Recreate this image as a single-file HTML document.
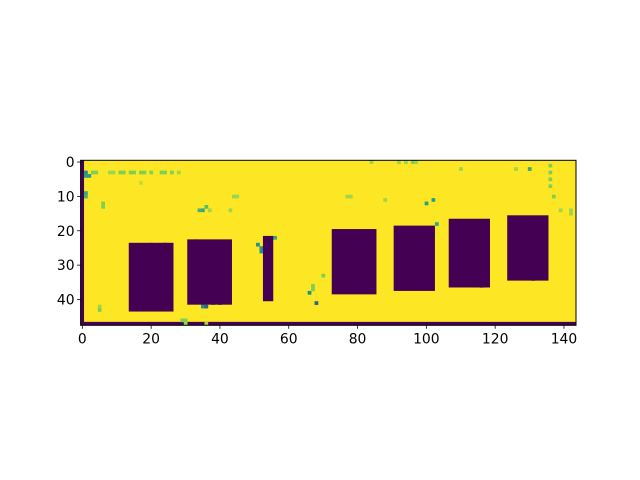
<!DOCTYPE html>
<html><head><meta charset="utf-8"><style>
html,body{margin:0;padding:0;background:#fff;width:640px;height:480px;overflow:hidden}
svg text{font-family:"DejaVu Sans","Liberation Sans",sans-serif;font-size:13.9px;fill:#000}
</style></head><body>
<svg id="chart" width="640" height="480" xmlns="http://www.w3.org/2000/svg">
<g id="plot"></g>
<g id="axes"></g>
</svg>
<script>
// image data (cols x rows)
const nCols = 144;
const nRows = 48;
// dark blobs: [col0, col1 (excl), row0, row1 (excl)]
const blobCol0 = [14, 31, 53, 73, 91, 107, 124];
const blobCol1 = [27, 44, 56, 86, 103, 119, 136];
const blobRow0 = [24, 23, 22, 20, 19, 17, 16];
const blobRow1 = [44, 42, 41, 39, 38, 37, 35];
// noise pixels: col, row, level (0 dark .. 1 yellow)
const noiseCol = [1,1,2,3,4,8,9,11,12,14,15,17,18,20,23,24,26,28,34,35,36,37,1,1,6,6,20,35,35,36,38,40,43,51,52,52,55,56,66,67,67,68,70,5,5,17,29,30,77,78,92,94,96,100,102,103,110,112,113,113,116,126,130,136,136,136,136,137,142,142,30,36,44,45,88,84,97,131,139,20,24,33];
const noiseRow = [3,4,4,3,3,3,3,3,3,3,3,3,3,3,3,3,3,3,14,14,13,14,9,10,12,13,25,41,42,42,41,41,14,24,25,26,22,22,38,37,36,41,33,42,43,6,46,46,10,10,0,0,0,12,11,18,2,19,19,18,36,2,2,1,3,7,5,10,15,14,47,47,10,10,11,0,0,34,14,24,24,23];
const noiseVal = [0.5,0.55,0.55,0.8,0.8,0.85,0.85,0.8,0.8,0.8,0.8,0.8,0.8,0.8,0.8,0.8,0.8,0.85,0.65,0.6,0.7,0.85,0.6,0.65,0.8,0.8,0.8,0.5,0.5,0.3,0.5,0.4,0.85,0.5,0.5,0.5,0.6,0.6,0.5,0.8,0.8,0.3,0.8,0.85,0.8,0.9,0.8,0.8,0.85,0.85,0.85,0.85,0.8,0.55,0.55,0.6,0.85,0.85,0.85,0.6,0.6,0.85,0.6,0.8,0.8,0.8,0.8,0.8,0.85,0.85,0.85,0.85,0.85,0.85,0.85,0.85,0.85,0.6,0.85,0.5,0.15,0.6];
const xTicks = [0,20,40,60,80,100,120,140];
const yTicks = [0,10,20,30,40];

const L=80.6, T=160.3, R=576, B=325.3;
const cw=(R-L)/nCols, ch=(B-T)/nRows;
const xs=c=>L+(c+0.5)*cw, ys=r=>T+(r+0.5)*ch;
const cx=c=>L+c*cw, cy=r=>T+r*ch;
const NS="http://www.w3.org/2000/svg";
const plot=document.getElementById('plot'), axes=document.getElementById('axes');
function viridis(t){
  const s=[[68,1,84],[59,82,139],[33,145,140],[94,201,98],[253,231,37]];
  const p=t*(s.length-1), i=Math.min(Math.floor(p),s.length-2), f=p-i;
  const c=s[i].map((v,k)=>Math.round(v+(s[i+1][k]-v)*f));
  return `rgb(${c[0]},${c[1]},${c[2]})`;
}
function rect(x,y,w,h,fill,name){
  const r=document.createElementNS(NS,'rect');
  r.setAttribute('x',x);r.setAttribute('y',y);r.setAttribute('width',w);r.setAttribute('height',h);r.setAttribute('fill',fill);
  
  
  plot.appendChild(r);return r;
}
rect(L,T,R-L,B-T,viridis(1),'image-background');
rect(cx(0),T,cw,B-T,viridis(0),'left-dark-column');
rect(L,cy(nRows-1),R-L,ch,viridis(0),'bottom-dark-row');
for(let i=0;i<noiseCol.length;i++){
  rect(cx(noiseCol[i]),cy(noiseRow[i]),cw+0.3,ch+0.3,viridis(noiseVal[i]),'noise-pixel');
}
for(let i=0;i<blobCol0.length;i++){
  rect(cx(blobCol0[i]),cy(blobRow0[i]),(blobCol1[i]-blobCol0[i])*cw,(blobRow1[i]-blobRow0[i])*ch,viridis(0),'dark-blob-'+(i+1));
}
const f=document.createElementNS(NS,'rect');
f.setAttribute('x',L);f.setAttribute('y',T);f.setAttribute('width',R-L);f.setAttribute('height',B-T);
f.setAttribute('fill','none');f.setAttribute('stroke','#000');f.setAttribute('stroke-width','1');


axes.appendChild(f);
function line(x1,y1,x2,y2,name){
  const l=document.createElementNS(NS,'line');
  l.setAttribute('x1',x1);l.setAttribute('y1',y1);l.setAttribute('x2',x2);l.setAttribute('y2',y2);l.setAttribute('stroke','#000');l.setAttribute('stroke-width','0.8');
  
  
  axes.appendChild(l);
}
function text(x,y,s,anchor,name){
  const t=document.createElementNS(NS,'text');
  t.setAttribute('x',x);t.setAttribute('y',y);t.setAttribute('text-anchor',anchor);t.textContent=s;
  
  
  axes.appendChild(t);
}
xTicks.forEach(v=>{const x=xs(v);line(x,B,x,B+3.5,'x-tick');text(x,B+18,String(v),'middle','x-tick-label');});
yTicks.forEach(v=>{const y=ys(v);line(L,y,L-3.5,y,'y-tick');text(L-6,y+5,String(v),'end','y-tick-label');});
</script>
</body></html>
